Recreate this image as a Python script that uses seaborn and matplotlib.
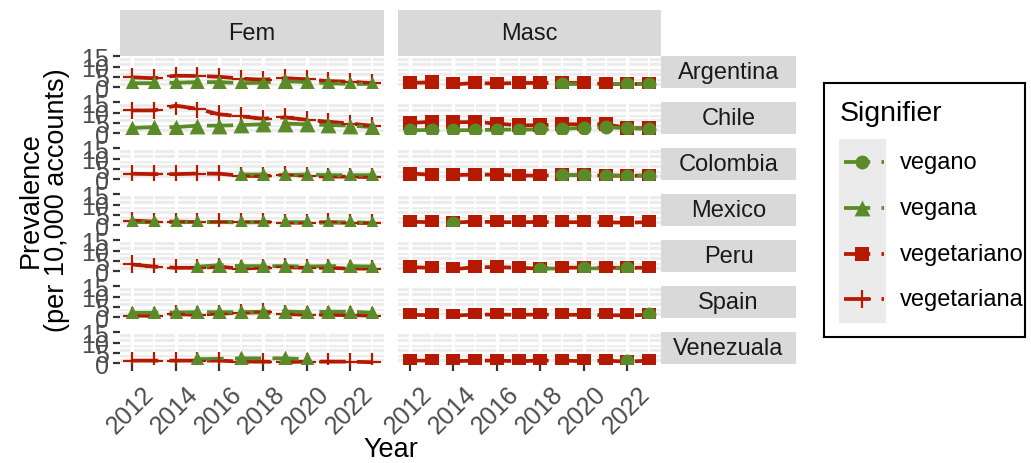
import numpy as np
import pandas as pd
import matplotlib
matplotlib.use("Agg")
import matplotlib.pyplot as plt
from matplotlib.transforms import ScaledTranslation
from matplotlib.patches import Rectangle
import seaborn as sns

nan = np.nan

years = list(range(2012, 2024))
countries = ["Argentina", "Chile", "Colombia", "Mexico", "Peru", "Spain", "Venezuala"]
genders = ["Fem", "Masc"]
signifiers = ["vegano", "vegana", "vegetariano", "vegetariana"]
x_ticks = [2012, 2014, 2016, 2018, 2020, 2022]
y_ticks = [0, 5, 10, 15]

# Prevalence per 10,000 accounts, one list per country (2012..2023)
vegano = {
    "Argentina": [nan, nan, nan, nan, nan, nan, nan, 1.6, nan, nan, 1.6, 1.6],
    "Chile":     [1.5, 1.6, 1.5, 1.5, 1.8, 1.8, 1.9, 2.1, 2.7, 3.0, 2.4, 2.1],
    "Colombia":  [nan, nan, nan, nan, nan, nan, nan, 2.0, 2.0, 1.8, 1.8, 1.8],
    "Mexico":    [nan, nan, 1.0, nan, nan, nan, nan, nan, nan, nan, nan, nan],
    "Peru":      [nan, nan, nan, nan, nan, nan, 1.3, nan, 1.4, nan, 1.5, nan],
    "Spain":     [nan, nan, nan, nan, nan, nan, nan, nan, nan, nan, nan, 1.5],
    "Venezuala": [nan, nan, nan, nan, nan, nan, nan, nan, nan, nan, 1.0, nan],
}
vegana = {
    "Argentina": [2.0, 2.0, 2.2, 2.5, 2.5, 2.0, 2.2, 3.0, 2.5, 2.0, 1.6, 1.6],
    "Chile":     [2.6, 3.0, 3.0, 3.7, 3.7, 4.0, 4.4, 4.7, 4.4, 4.0, 3.7, 3.0],
    "Colombia":  [nan, nan, nan, nan, nan, 2.3, 2.3, 2.0, 2.3, 2.0, 2.0, 2.0],
    "Mexico":    [1.5, 1.5, 1.5, 1.5, nan, 1.5, 1.5, 1.5, 1.5, 1.2, 1.5, 1.2],
    "Peru":      [nan, nan, nan, 2.2, 3.0, 2.5, 2.5, 2.5, 2.3, 2.5, 2.5, 2.3],
    "Spain":     [2.2, 2.2, 2.3, 2.5, 2.5, 2.5, 2.7, 2.8, 2.5, 2.7, 2.7, 2.2],
    "Venezuala": [nan, nan, nan, 2.0, nan, 2.4, nan, 2.4, 2.0, nan, nan, nan],
}
vegetariano = {
    "Argentina": [2.1, 2.4, 1.4, 2.1, 1.8, 2.1, 2.1, 2.1, 2.1, 1.6, 1.5, 1.8],
    "Chile":     [5.0, 5.6, 5.3, 5.5, 4.7, 3.9, 3.9, 4.4, 4.4, 4.4, 2.6, 2.4],
    "Colombia":  [2.8, 2.2, 2.0, 2.3, 2.2, 1.8, 1.8, 2.0, 2.0, 1.8, 1.7, 1.8],
    "Mexico":    [1.7, 1.5, 1.3, 1.8, 1.5, 1.5, 1.6, 1.5, 1.5, 1.4, 1.3, 1.5],
    "Peru":      [2.0, 1.7, 1.0, 2.0, 2.0, 1.7, 1.3, 1.7, 1.8, 1.7, 1.7, 1.7],
    "Spain":     [1.2, 1.0, 0.8, 1.3, 1.3, 1.2, 1.3, 1.2, 1.2, 1.0, 0.9, 1.2],
    "Venezuala": [1.3, 1.3, 1.0, 1.3, 1.3, 1.0, 1.3, 1.3, 1.0, 1.3, 0.8, 1.3],
}
vegetariana = {
    "Argentina": [4.8, 4.4, 5.6, 5.5, 5.1, 4.2, 3.7, 4.4, 3.9, 3.0, 2.7, 2.0],
    "Chile":     [11.1, 11.1, 13.4, 11.9, 9.2, 8.2, 7.1, 7.7, 6.6, 5.6, 4.7, 3.7],
    "Colombia":  [2.7, 2.5, 2.5, 2.8, 2.7, 1.7, 1.5, 2.3, 1.7, 1.3, 1.3, 1.0],
    "Mexico":    [2.3, 1.8, 1.8, 1.6, 1.6, 1.4, 1.5, 1.3, 1.2, 1.5, 1.2, 1.0],
    "Peru":      [3.3, 2.3, 1.7, 1.7, 2.2, 1.3, 1.7, 2.0, 1.7, 1.7, 1.3, 1.3],
    "Spain":     [0.8, 0.7, 1.5, 1.2, 1.8, 2.2, 2.4, 1.5, 1.3, 1.2, 1.0, 0.8],
    "Venezuala": [1.3, 1.3, 1.3, 1.3, 1.3, 0.8, 0.8, 0.6, 0.8, 0.8, 0.8, 0.5],
}

series = {"vegano": vegano, "vegana": vegana,
          "vegetariano": vegetariano, "vegetariana": vegetariana}
gender_of = {"vegano": "Masc", "vegetariano": "Masc",
             "vegana": "Fem", "vegetariana": "Fem"}

rows = []
for sig, table in series.items():
    for country, vals in table.items():
        for yr, v in zip(years, vals):
            rows.append((country, gender_of[sig], sig, yr, v))
df = pd.DataFrame(rows, columns=["Country", "Gender", "Signifier", "Year", "Prevalence"])
df = df.dropna()

# ---- styling ---------------------------------------------------------------
GREEN = "#5B8A29"
RED = "#B51A00"
style = {
    "vegano":      dict(color=GREEN, marker="o", s=100, lw=0),
    "vegana":      dict(color=GREEN, marker="^", s=130, lw=0),
    "vegetariano": dict(color=RED,   marker="s", s=96,  lw=0),
    "vegetariana": dict(color=RED,   marker="+", s=150, lw=1.6),
}
# draw order inside each panel (later = on top)
panel_order = {"Fem": ["vegetariana", "vegana"], "Masc": ["vegetariano", "vegano"]}

LINE_W = 2.7
DASH = (0, (7, 3))

sns.set_theme(style="darkgrid", rc={
    "axes.facecolor": "#EBEBEB",
    "grid.color": "white",
})
plt.rcParams["font.family"] = ["Liberation Sans", "DejaVu Sans"]

W, H = 1031, 464
fig = plt.figure(figsize=(W / 100, H / 100), dpi=100)
fig.patch.set_facecolor("white")


def rect(x0, y0, x1, y1):
    return [x0 / W, 1 - y1 / H, (x1 - x0) / W, (y1 - y0) / H]


col_x = [(120, 384), (398, 661)]
row_top = [57 + 46 * i for i in range(len(countries))]
row_h = 32.3
STRIP = "#D9D9D9"
TICK_TXT = "#4D4D4D"
TICK_SIZE = 18

for j, g in enumerate(genders):
    x0, x1 = col_x[j]
    sax = fig.add_axes(rect(x0, 11, x1, 57))
    sax.set_facecolor(STRIP)
    sax.set_xticks([]); sax.set_yticks([])
    for sp in sax.spines.values():
        sp.set_visible(False)
    sax.grid(False)
    sax.text(0.5, 0.5, g, ha="center", va="center", fontsize=17,
             color="#1A1A1A", transform=sax.transAxes)

for i, country in enumerate(countries):
    top = row_top[i]
    # row strip
    rax = fig.add_axes(rect(661, top, 796, top + row_h))
    rax.set_facecolor(STRIP)
    rax.set_xticks([]); rax.set_yticks([])
    for sp in rax.spines.values():
        sp.set_visible(False)
    rax.grid(False)
    rax.text(0.5, 0.5, country, ha="center", va="center", fontsize=17,
             color="#1A1A1A", transform=rax.transAxes)

    for j, g in enumerate(genders):
        x0, x1 = col_x[j]
        ax = fig.add_axes(rect(x0, top, x1, top + row_h))
        sub = df[(df.Country == country) & (df.Gender == g)]
        for sig in panel_order[g]:
            d = sub[sub.Signifier == sig]
            st = style[sig]
            if len(d) > 1:
                sns.lineplot(data=d, x="Year", y="Prevalence", ax=ax,
                             color=st["color"], linewidth=LINE_W, linestyle=DASH,
                             errorbar=None, legend=False, zorder=2)
        for k, sig in enumerate(panel_order[g]):
            d = sub[sub.Signifier == sig]
            st = style[sig]
            if st["marker"] == "+":
                sns.scatterplot(data=d, x="Year", y="Prevalence", ax=ax,
                                color=st["color"], marker="+", s=st["s"],
                                linewidth=st["lw"], legend=False, zorder=3 + k)
            else:
                sns.scatterplot(data=d, x="Year", y="Prevalence", ax=ax,
                                color=st["color"], marker=st["marker"], s=st["s"],
                                edgecolor=st["color"], linewidth=0,
                                legend=False, zorder=3 + k)
        ax.set_xlim(2011.45, 2023.55)
        ax.set_ylim(-0.5, 15.2)
        ax.set_xticks(x_ticks)
        ax.set_xticks([y for y in years if y not in x_ticks], minor=True)
        ax.set_yticks(y_ticks)
        ax.set_yticks([2.5, 7.5, 12.5], minor=True)
        ax.grid(which="major", color="white", linewidth=2.4)
        ax.grid(which="minor", color="white", linewidth=1.2)
        ax.set_xlabel(""); ax.set_ylabel("")
        for sp in ax.spines.values():
            sp.set_visible(False)
        ax.tick_params(which="minor", length=0)
        ax.tick_params(which="major", length=5, width=1.6, color="#333333",
                       labelcolor=TICK_TXT, labelsize=TICK_SIZE, pad=3)
        ax.tick_params(axis="y", left=(j == 0), labelleft=(j == 0))
        ax.tick_params(axis="x", bottom=(i == len(countries) - 1),
                       labelbottom=(i == len(countries) - 1))
        if j == 0:
            ax.set_yticklabels([str(t) for t in y_ticks])
        if i == len(countries) - 1:
            ax.set_xticklabels([str(t) for t in x_ticks])
            off = ScaledTranslation(10 / 100, -6 / 100, fig.dpi_scale_trans)
            for lab in ax.get_xticklabels():
                lab.set_rotation(45)
                lab.set_ha("right")
                lab.set_va("top")
                lab.set_rotation_mode("anchor")
                lab.set_transform(lab.get_transform() + off)

# axis titles
fig.text(44 / W, 1 - 200 / H, "Prevalence\n(per 10,000 accounts)", rotation=90,
         ha="center", va="center", fontsize=19.5, color="black",
         multialignment="center", linespacing=1.0)
fig.text(391 / W, 1 - 450 / H, "Year", ha="center", va="center",
         fontsize=19.5, color="black")

# legend
lax = fig.add_axes(rect(824, 84, 1025, 338))
lax.set_xlim(824, 1025)
lax.set_ylim(338, 84)
lax.set_facecolor("white")
lax.grid(False)
lax.set_xticks([]); lax.set_yticks([])
for sp in lax.spines.values():
    sp.set_visible(True)
    sp.set_color("black")
    sp.set_linewidth(1.5)
lax.add_patch(Rectangle((839, 140), 47, 184, facecolor="#EBEBEB", edgecolor="none"))
lax.text(840, 114, "Signifier", ha="left", va="center", fontsize=20.5, color="black")
key_y = [163, 209, 255, 300]
for sig, ky in zip(signifiers, key_y):
    st = style[sig]
    lax.plot([844, 884], [ky, ky], color=st["color"], linewidth=LINE_W,
             linestyle=DASH, solid_capstyle="butt", dash_capstyle="butt")
    if st["marker"] == "+":
        lax.scatter([862], [ky], marker="+", s=st["s"], color=st["color"],
                    linewidth=st["lw"], zorder=3)
    else:
        lax.scatter([862], [ky], marker=st["marker"], s=st["s"], color=st["color"],
                    linewidth=0, zorder=3)
    lax.text(900, ky, sig, ha="left", va="center", fontsize=17, color="black")

fig.savefig("out.png", dpi=100, facecolor="white")
